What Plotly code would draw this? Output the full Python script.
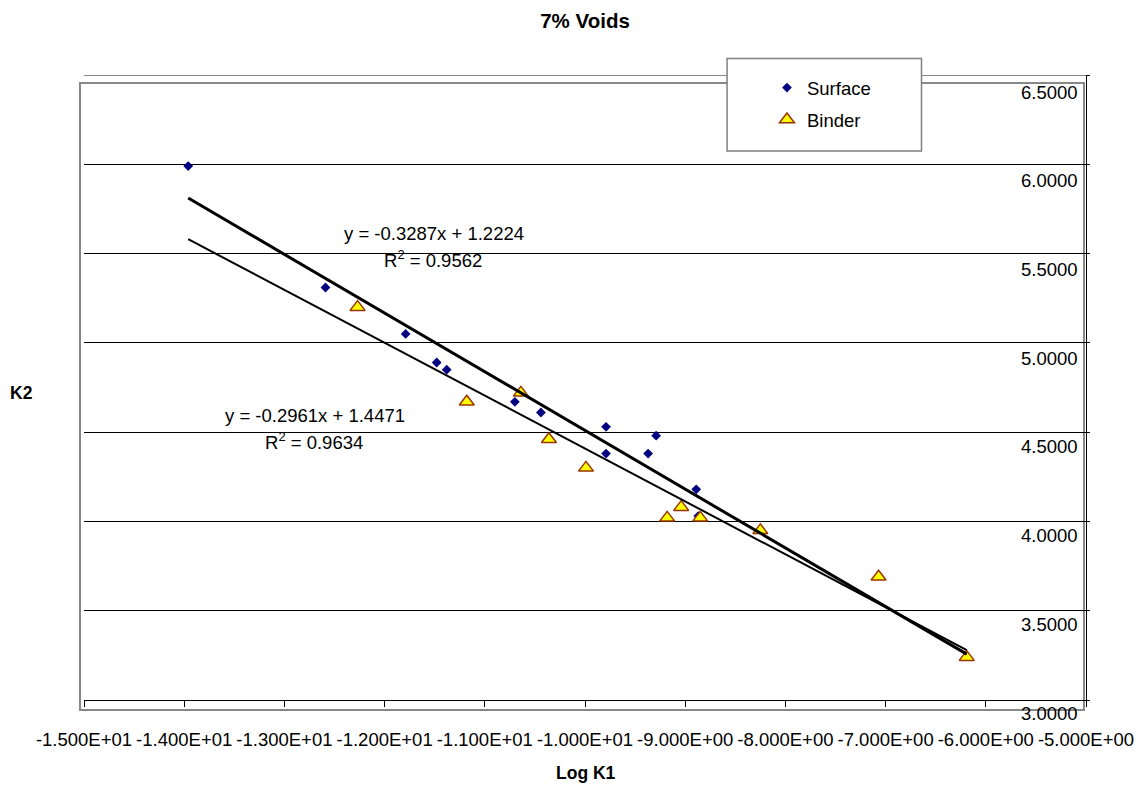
import plotly.graph_objects as go

# ---------------- data ----------------
surface_x = [-13.96, -12.59, -11.79, -11.48, -11.38, -10.70, -10.44, -9.79, -9.79, -9.37, -9.29, -8.89, -8.87]
surface_y = [5.99, 5.31, 5.05, 4.89, 4.85, 4.67, 4.61, 4.53, 4.38, 4.38, 4.48, 4.18, 4.03]

binder_x = [-12.27, -11.18, -10.64, -10.36, -9.99, -9.18, -9.04, -8.85, -8.25, -7.07, -6.19]
binder_y = [5.20, 4.67, 4.72, 4.46, 4.30, 4.02, 4.08, 4.02, 3.95, 3.69, 3.24]

surface_slope, surface_intercept, surface_r2 = -0.3287, 1.2224, 0.9562
binder_slope, binder_intercept, binder_r2 = -0.2961, 1.4471, 0.9634

x_ticks = [-15, -14, -13, -12, -11, -10, -9, -8, -7, -6, -5]
y_ticks = [3.0, 3.5, 4.0, 4.5, 5.0, 5.5, 6.0, 6.5]

# ---------------- layout geometry ----------------
W, H = 1146, 787
L, R, T, B = 84, 1146 - 1089, 75, 787 - 700
PW, PH = W - L - R, H - T - B

def px_x(p):  # pixel -> paper x
    return (p - L) / PW

def px_y(p):  # pixel -> paper y
    return (H - B - p) / PH

FONT = "Liberation Sans, Arial, sans-serif"
FS = 18.5

fig = go.Figure()

fig.add_trace(go.Scatter(
    x=surface_x, y=surface_y, mode="markers", name="Surface", legendgroup="s",
    marker=dict(symbol="diamond", size=7.5, color="#000080", line=dict(width=0)),
))
fig.add_trace(go.Scatter(
    x=binder_x, y=binder_y, mode="markers", name="Binder", legendgroup="b",
    marker=dict(symbol="triangle-up", size=13, color="#FFFF00",
                line=dict(color="#993300", width=1.5)),
))

all_x = surface_x + binder_x
tx = [min(all_x), max(all_x)]
fig.add_trace(go.Scatter(
    x=tx, y=[surface_slope * v + surface_intercept for v in tx], mode="lines",
    line=dict(color="black", width=3), showlegend=False, hoverinfo="skip",
))
fig.add_trace(go.Scatter(
    x=tx, y=[binder_slope * v + binder_intercept for v in tx], mode="lines",
    line=dict(color="black", width=2), showlegend=False, hoverinfo="skip",
))

def fmt_eq(s, i):
    sign = "+" if i >= 0 else "-"
    return f"y = {s:.4f}x {sign} {abs(i):.4f}"

annotations = [
    dict(text=fmt_eq(surface_slope, surface_intercept), x=px_x(435.5), y=px_y(233)),
    dict(text=f"R<sup>2</sup> = {surface_r2:.4f}", x=px_x(434.5), y=px_y(259)),
    dict(text=fmt_eq(binder_slope, binder_intercept), x=px_x(316), y=px_y(415)),
    dict(text=f"R<sup>2</sup> = {binder_r2:.4f}", x=px_x(315), y=px_y(441)),
]
for a in annotations:
    a.update(xref="paper", yref="paper", xanchor="center", yanchor="middle",
             showarrow=False, font=dict(family=FONT, size=FS, color="black"))

# y tick labels (drawn inside, shifted down like the original)
for v in y_ticks:
    annotations.append(dict(
        text=f"{v:.4f}", x=px_x(1083), y=v, xref="paper", yref="y",
        xanchor="right", yanchor="middle", showarrow=False,
        yshift=-(17 - 4 * (6.5 - v) / 3.5),
        font=dict(family=FONT, size=FS, color="black"),
    ))

# axis titles
annotations.append(dict(text="<b>Log K1</b>", x=px_x(588), y=px_y(773), xref="paper", yref="paper",
                        xanchor="center", yanchor="middle", showarrow=False,
                        font=dict(family=FONT, size=17.5, color="black")))
annotations.append(dict(text="<b>K2</b>", x=px_x(21), y=px_y(393), xref="paper", yref="paper",
                        xanchor="center", yanchor="middle", showarrow=False,
                        font=dict(family=FONT, size=17.5, color="black")))

shapes = [
    # outer gray plot-area border
    dict(type="rect", xref="paper", yref="paper", x0=px_x(80), x1=px_x(1087), y0=px_y(710), y1=px_y(83),
         line=dict(color="#888888", width=2), fillcolor="rgba(0,0,0,0)", layer="below"),
    # top gray line at 6.5
    dict(type="line", xref="paper", yref="y", x0=0, x1=1, y0=6.5, y1=6.5,
         line=dict(color="#888888", width=2), layer="above"),
    # legend box
    dict(type="rect", xref="paper", yref="paper", x0=px_x(729), x1=px_x(924), y0=px_y(151), y1=px_y(58.5),
         line=dict(color="#808080", width=1.5), fillcolor="white", layer="above"),
]

fig.update_layout(
    width=W, height=H,
    margin=dict(l=L, r=R, t=T, b=B, pad=0),
    paper_bgcolor="white", plot_bgcolor="white",
    font=dict(family=FONT, size=FS, color="black"),
    title=dict(text="<b>7% Voids</b>", x=573 / W, xanchor="center", xref="paper",
               y=1 - 21 / H, yanchor="middle", yref="container",
               font=dict(family=FONT, size=20.5, color="black")),
    showlegend=True,
    legend=dict(x=px_x(769), y=px_y(69), xanchor="left", yanchor="top",
                xref="paper", yref="paper",
                bgcolor="rgba(0,0,0,0)", borderwidth=0,
                font=dict(family=FONT, size=FS, color="black"),
                tracegroupgap=5),
    annotations=annotations,
    shapes=shapes,
)

fig.update_xaxes(
    range=[-15, -5], tickvals=x_ticks, ticktext=[f"{v:.3E}" for v in x_ticks],
    tickangle=0, showgrid=False, zeroline=False,
    showline=True, linecolor="black", linewidth=1,
    ticks="outside", ticklen=6, tickcolor="black", tickwidth=1,
    tickfont=dict(family=FONT, size=FS, color="black"),
    ticklabelstandoff=17,
)
fig.update_yaxes(
    range=[3, 6.5], side="right", tickvals=y_ticks, showticklabels=False,
    showgrid=True, gridcolor="black", gridwidth=1, zeroline=False,
    showline=True, linecolor="black", linewidth=1,
    ticks="outside", ticklen=3, tickcolor="black",
)

fig.write_html("out.html")
